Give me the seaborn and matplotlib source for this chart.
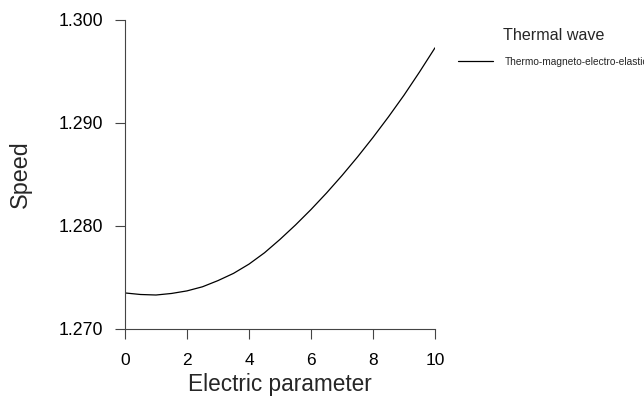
import matplotlib
matplotlib.use("Agg")
import matplotlib.pyplot as plt
import seaborn as sns
import pandas as pd
from matplotlib.ticker import FormatStrFormatter

electric_parameter = [0, 0.5, 1, 1.5, 2, 2.5, 3, 3.5, 4, 4.5, 5, 5.5, 6, 6.5, 7, 7.5, 8, 8.5, 9, 9.5, 10]
speed = [1.2735, 1.27335, 1.2733, 1.27345, 1.2737, 1.2741, 1.2747, 1.2754, 1.2763, 1.2774,
         1.2787, 1.2801, 1.2816, 1.2832, 1.2849, 1.2867, 1.2886, 1.2906, 1.2927, 1.29495, 1.2973]
series_name = "Thermo-magneto-electro-elastic"
legend_title = "Thermal wave"
x_ticks = [0, 2, 4, 6, 8, 10]
y_ticks = [1.270, 1.280, 1.290, 1.300]

sns.set_style("ticks")
plt.rcParams['font.family'] = ['Liberation Sans', 'DejaVu Sans']
plt.rcParams['lines.solid_joinstyle'] = 'round'

df = pd.DataFrame({"Electric parameter": electric_parameter,
                   "Speed": speed,
                   "series": [series_name] * len(speed)})

W, H = 644, 396
fig = plt.figure(figsize=(W / 100, H / 100), dpi=100)
ax = fig.add_axes([125 / W, 1 - 329 / H, (435 - 125) / W, (329 - 20) / H])

sns.lineplot(data=df, x="Electric parameter", y="Speed", hue="series",
             palette=["black"], linewidth=0.9, ax=ax)

ax.set_xlim(0, 10)
ax.set_ylim(1.270, 1.300)
ax.set_xticks(x_ticks)
ax.set_yticks(y_ticks)
ax.yaxis.set_major_formatter(FormatStrFormatter("%.3f"))
ax.tick_params(axis="both", direction="out", length=7.4, width=0.8,
               color="#444444", labelsize=12.5, labelcolor="black")
ax.tick_params(axis="y", pad=8.5, labelsize=12.8)
ax.tick_params(axis="x", pad=9.8)
for side in ["top", "right"]:
    ax.spines[side].set_visible(False)
for side in ["left", "bottom"]:
    ax.spines[side].set_color("#444444")
    ax.spines[side].set_linewidth(0.8)

ax.set_xlabel("Electric parameter", fontsize=16.3, labelpad=3.5)
ax.set_ylabel("Speed", fontsize=16.8, labelpad=19)

leg = ax.legend(title=legend_title, loc="upper left",
                bbox_to_anchor=(458 / W, 1 - 28 / H), bbox_transform=fig.transFigure,
                frameon=False, fontsize=7.3, title_fontsize=11.6,
                handlelength=3.45, handletextpad=1.2, borderpad=0, borderaxespad=0)
leg._legend_box.sep = 10

fig.savefig("out.png", dpi=100)
